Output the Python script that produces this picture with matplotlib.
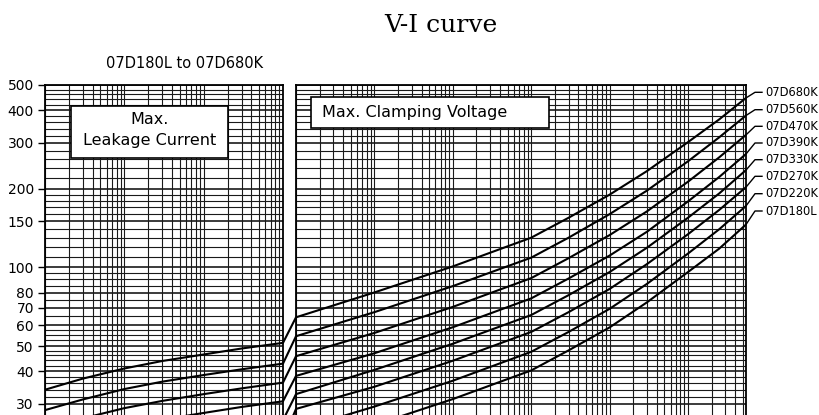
import matplotlib
matplotlib.use("Agg")
import matplotlib.pyplot as plt
from matplotlib.patches import Rectangle, ConnectionPatch
from matplotlib.lines import Line2D

plt.rcParams['font.family'] = ['DejaVu Sans']

# ---------------- data ----------------
models = ['07D680K', '07D560K', '07D470K', '07D390K',
          '07D330K', '07D270K', '07D220K', '07D180L']

# Max. leakage current region (left panel), current in A, voltage in V
leak_current = [1e-6, 3e-6, 1e-5, 3e-5, 1e-4, 3e-4, 1e-3]
leak_680 = [34.0, 37.5, 41.0, 43.8, 46.4, 48.9, 51.4]
leak_560 = [28.4, 31.2, 34.2, 36.5, 38.7, 40.7, 42.8]
leak_470 = [23.9, 26.4, 28.9, 30.8, 32.7, 34.4, 36.2]
leak_390 = [20.3, 22.4, 24.5, 26.1, 27.7, 29.2, 30.7]
leak_330 = [17.2, 18.9, 20.7, 22.1, 23.4, 24.7, 26.0]
leak_270 = [14.5, 15.9, 17.4, 18.6, 19.7, 20.8, 21.8]
leak_220 = [11.9, 13.1, 14.4, 15.3, 16.2, 17.1, 18.0]
leak_180 = [9.9, 10.9, 11.9, 12.7, 13.5, 14.2, 14.9]

# Max. clamping voltage region (right panel)
clamp_current = [1e-3, 1e-2, 1e-1, 1, 3, 10, 30, 100, 250, 550]
clamp_680 = [64.4, 80.2, 100.9, 130, 155, 190, 234, 302, 369, 446]
clamp_560 = [54.5, 67.4, 84.8, 109, 130, 160, 197, 255, 315, 382]
clamp_470 = [45.7, 56.1, 70.6, 91, 108.5, 133, 164, 213, 264, 322]
clamp_390 = [38.4, 46.9, 59.0, 76.1, 90.7, 111, 137, 179, 222, 272]
clamp_330 = [32.7, 40.5, 51.0, 65.7, 78.3, 96, 119, 155, 192, 236]
clamp_270 = [28.7, 34.9, 43.9, 56.6, 67.4, 82.7, 103, 134, 166, 203]
clamp_220 = [23.8, 29.3, 36.8, 47.5, 56.6, 69.4, 86.5, 113, 140, 172]
clamp_180 = [20.2, 24.9, 31.3, 40.3, 48.1, 58.9, 73.5, 96, 118, 146]

leak_series = [leak_680, leak_560, leak_470, leak_390,
               leak_330, leak_270, leak_220, leak_180]
clamp_series = [clamp_680, clamp_560, clamp_470, clamp_390,
                clamp_330, clamp_270, clamp_220, clamp_180]

y_ticks = [30, 40, 50, 60, 70, 80, 100, 150, 200, 300, 400, 500]
y_grid = ([30, 32, 34, 36, 38, 40, 42, 44, 46, 48, 50, 52.5, 55, 57.5,
           60, 65, 70, 75, 80, 85, 90, 95,
           100, 110, 120, 130, 140, 150, 160, 170, 180, 190,
           200, 220, 240, 260, 280, 300, 320, 340, 360, 380,
           400, 420, 440, 460, 480, 500])

title = 'V-I curve'
subtitle = '07D180L to 07D680K'
left_box = ['Max.', 'Leakage Current']
right_box = 'Max. Clamping Voltage'

# ---------------- figure ----------------
W, H = 820, 415
fig = plt.figure(figsize=(W / 100, H / 100), dpi=100)
fig.patch.set_facecolor('white')

top_px = 85
ax1 = fig.add_axes([45 / W, 0, 238 / W, (H - top_px) / H])
ax2 = fig.add_axes([296 / W, 0, 450 / W, (H - top_px) / H])

ymax = 500
ymin = ymax / 10 ** ((H - top_px) / 261.0)

grid_kw = dict(color='#1a1a1a', lw=0.8, zorder=1)


def decade_lines(lo, hi):
    vals = []
    d = lo
    while d <= hi * 1.0001:
        for m in range(1, 10):
            v = d * m
            if lo <= v <= hi * 1.0001:
                vals.append(v)
        d *= 10
    return vals


for ax, (xlo, xhi) in ((ax1, (1e-6, 1e-3)), (ax2, (1e-3, 550))):
    ax.set_xscale('log')
    ax.set_yscale('log')
    ax.set_xlim(xlo, xhi)
    ax.set_ylim(ymin, ymax)
    for v in decade_lines(xlo, xhi):
        ax.axvline(v, **grid_kw)
    for v in y_grid:
        lw = 1.2 if v in y_ticks else 0.8
        ax.axhline(v, color='#1a1a1a', lw=lw, zorder=1)
    ax.spines['bottom'].set_visible(False)
    for s in ('top', 'left', 'right'):
        ax.spines[s].set_linewidth(1.3)
        ax.spines[s].set_color('black')
    ax.tick_params(axis='x', which='both', bottom=False, labelbottom=False)
    ax.minorticks_off()

ax1.set_yticks(y_ticks)
ax1.set_yticklabels([str(t) for t in y_ticks])
ax1.tick_params(axis='y', which='major', direction='out', length=5, width=1,
                labelsize=10, pad=3)
ax1.tick_params(axis='y', which='minor', left=False)
ax2.set_yticks([])
ax2.tick_params(axis='y', which='both', left=False, labelleft=False)

# curves
for lv, cv in zip(leak_series, clamp_series):
    ax1.plot(leak_current, lv, color='black', lw=1.5, zorder=3)
    ax2.plot(clamp_current, cv, color='black', lw=1.5, zorder=3)
    con = ConnectionPatch(xyA=(leak_current[-1], lv[-1]), coordsA=ax1.transData,
                          xyB=(clamp_current[0], cv[0]), coordsB=ax2.transData,
                          color='black', lw=1.5)
    fig.add_artist(con)

# text boxes
r1 = Rectangle((0.109, 0.778), 0.768 - 0.109, 0.937 - 0.778, transform=ax1.transAxes,
               facecolor='white', edgecolor='black', lw=1.2, zorder=5)
ax1.add_patch(r1)
ax1.text(0.4385, 0.894, left_box[0], transform=ax1.transAxes, ha='center',
         va='center', fontsize=11.5, zorder=6)
ax1.text(0.4385, 0.833, left_box[1], transform=ax1.transAxes, ha='center',
         va='center', fontsize=11.5, zorder=6)

r2 = Rectangle((0.0327, 0.8688), 0.5616 - 0.0327, 0.9627 - 0.8688,
               transform=ax2.transAxes, facecolor='white', edgecolor='black',
               lw=1.2, zorder=5)
ax2.add_patch(r2)
ax2.text(0.0571, 0.916, right_box, transform=ax2.transAxes, ha='left',
         va='center', fontsize=11.5, zorder=6)

# titles
fig.text(441 / W, 1 - 25 / H, title, family='DejaVu Serif', fontsize=18,
         ha='center', va='center')
fig.text(185 / W, 1 - 63.3 / H, subtitle, fontsize=10.5, ha='center', va='center')

# right-side labels with leader lines
label_y_px = [92.3, 109.7, 126.3, 143, 159.7, 176.3, 193.7, 211]
for name, cv, ly in zip(models, clamp_series, label_y_px):
    ex, ey = ax2.transData.transform((clamp_current[-1], cv[-1]))
    ly_b = H - ly
    xs = [ex / W, 755 / W, 762 / W]
    ys = [ey / H, ly_b / H, ly_b / H]
    fig.add_artist(Line2D(xs, ys, transform=fig.transFigure, color='black', lw=1.0))
    fig.text(765 / W, ly_b / H, name, fontsize=8.3, ha='left', va='center')

fig.savefig('out.png', dpi=100, facecolor='white')
